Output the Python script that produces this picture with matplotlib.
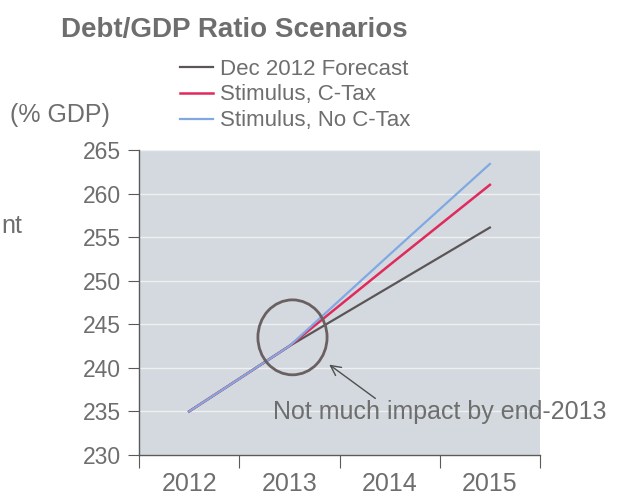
import matplotlib.pyplot as plt
from matplotlib.patches import Ellipse

plt.rcParams['font.family'] = ['Liberation Sans', 'DejaVu Sans']

years = ['2012', '2013', '2014', '2015']
dec_forecast = [235.0, 242.5, 249.3, 256.1]
stim_ctax = [235.0, 242.5, 251.8, 261.0]
stim_no_ctax = [235.0, 242.5, 253.0, 263.4]
y_ticks = [230, 235, 240, 245, 250, 255, 260, 265]

txt = '#6e6e6e'
axis_col = '#5a5a5a'

fig = plt.figure(figsize=(6.17, 4.96), dpi=100)
ax = fig.add_axes([0.2253, 0.0827, 0.6499, 0.6149])
ax.set_facecolor('#d3d9de')

x = range(len(years))
ax.plot(x, dec_forecast, color='#5b5557', lw=1.6, label='Dec 2012 Forecast', zorder=3)
ax.plot(x, stim_ctax, color='#e02a5c', lw=1.8, label='Stimulus, C-Tax', zorder=4)
ax.plot(x, stim_no_ctax, color='#80a9e2', lw=1.6, label='Stimulus, No C-Tax', zorder=5)

ax.set_xlim(-0.5, 3.5)
ax.set_ylim(230, 265)
ax.set_yticks(y_ticks)
ax.yaxis.grid(True, color='#eef0f2', lw=1.0)
ax.set_axisbelow(True)

# category labels centred between the boundary ticks
ax.set_xticks([-0.5, 0.5, 1.5, 2.5, 3.5])
ax.set_xticklabels([])
ax.set_xticks(list(x), minor=True)
ax.set_xticklabels(years, minor=True)
ax.tick_params(axis='x', which='major', length=9, color=axis_col, direction='out')
ax.tick_params(axis='x', which='minor', length=0, pad=12, labelsize=18, labelcolor=txt)
ax.tick_params(axis='y', length=8, color=axis_col, direction='out', pad=5,
               labelsize=16.5, labelcolor=txt)

for side in ['top', 'right']:
    ax.spines[side].set_visible(False)
for side in ['left', 'bottom']:
    ax.spines[side].set_color(axis_col)
    ax.spines[side].set_linewidth(1.0)

# circle around the end-2013 point
ax.add_patch(Ellipse((1.031, 243.5), 0.69, 8.6, fill=False, ec='#6a5f61', lw=2.0, zorder=6))
ax.annotate('', xy=(1.375, 240.56), xytext=(1.88, 236.3),
            arrowprops=dict(arrowstyle='->', color='#4f4f4f', lw=1.0, mutation_scale=18))
ax.text(0.837, 234.9, 'Not much impact by end-2013', fontsize=18, color=txt,
        va='center', ha='left', clip_on=False, zorder=7)

ax.legend(loc='upper left', bbox_to_anchor=(0.292, 0.882), bbox_transform=fig.transFigure,
          frameon=False, fontsize=16, handlelength=1.5, handletextpad=0.3,
          labelspacing=0.22, borderpad=0, borderaxespad=0, labelcolor=txt)

fig.text(0.379, 0.94, 'Debt/GDP Ratio Scenarios', fontsize=20, fontweight='bold',
         color=txt, ha='center', va='center')
fig.text(0.016, 0.768, '(% GDP)', fontsize=18, color=txt, ha='left', va='center')
fig.text(0.002, 0.545, 'nt', fontsize=18, color=txt, ha='left', va='center')

fig.savefig('out.png', dpi=100)
